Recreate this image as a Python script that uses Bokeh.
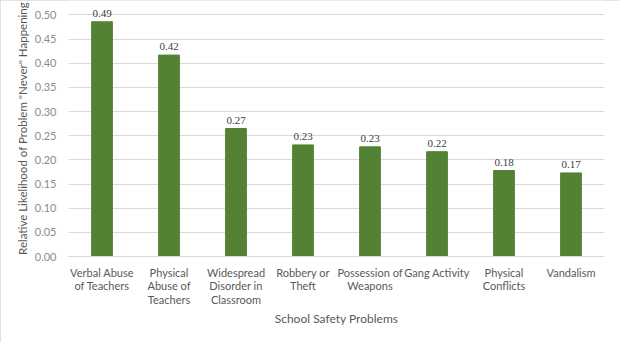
from bokeh.plotting import figure
from bokeh.models import (ColumnDataSource, LabelSet, Range1d, FixedTicker,
                          NumeralTickFormatter)
from bokeh.embed import file_html
from bokeh.resources import INLINE

categories = [
    "Verbal Abuse\nof Teachers",
    "Physical\nAbuse of\nTeachers",
    "Widespread\nDisorder in\nClassroom",
    "Robbery or\nTheft",
    "Possession of\nWeapons",
    "Gang Activity",
    "Physical\nConflicts",
    "Vandalism",
]
values = [0.486, 0.417, 0.265, 0.231, 0.227, 0.217, 0.178, 0.173]
value_labels = ["0.49", "0.42", "0.27", "0.23", "0.23", "0.22", "0.18", "0.17"]
y_ticks = [0.0, 0.05, 0.10, 0.15, 0.20, 0.25, 0.30, 0.35, 0.40, 0.45, 0.50]

source = ColumnDataSource(dict(cat=categories, val=values, lab=value_labels))

p = figure(
    x_range=categories,
    y_range=Range1d(0, 0.53),
    width=619,
    height=342,
    output_backend="svg",
    toolbar_location=None,
    min_border_left=68,
    min_border_right=15,
    min_border_top=0,
    min_border_bottom=86,
)
p.styles = {"outline": "1px solid #d9d9d9", "outline-offset": "-1px"}
p.vbar(x="cat", top="val", width=0.31, source=source, color="#548235")

labels = LabelSet(x="cat", y="val", text="lab", source=source,
                  text_align="center", text_baseline="bottom", y_offset=5,
                  text_font="Lato", text_font_size="11px", text_color="#404040")
p.add_layout(labels)

p.outline_line_color = None
p.background_fill_color = "white"
p.border_fill_color = "white"

p.xgrid.grid_line_color = None
p.ygrid.grid_line_color = "#d9d9d9"
p.ygrid.grid_line_width = 1

p.yaxis.ticker = FixedTicker(ticks=y_ticks)
p.yaxis.formatter = NumeralTickFormatter(format="0.00")
p.yaxis.axis_line_color = None
p.yaxis.major_tick_line_color = None
p.yaxis.minor_tick_line_color = None
p.yaxis.major_label_text_font = "Lato"
p.yaxis.major_label_text_font_size = "11px"
p.yaxis.major_label_text_color = "#8c8c8c"
p.yaxis.major_label_standoff = 6
p.yaxis.axis_label = 'Relative Likelihood of Problem "Never" Happening'
p.yaxis.axis_label_text_font = "Lato"
p.yaxis.axis_label_text_font_size = "11.5px"
p.yaxis.axis_label_text_font_style = "normal"
p.yaxis.axis_label_text_color = "#595959"
p.yaxis.axis_label_standoff = 3

p.xaxis.axis_line_color = "#d9d9d9"
p.xaxis.major_tick_line_color = None
p.xaxis.minor_tick_line_color = None
p.xaxis.major_label_text_font = "Lato"
p.xaxis.major_label_text_font_size = "11px"
p.xaxis.major_label_text_line_height = 1.05
p.xaxis.major_label_text_color = "#595959"
p.xaxis.major_label_standoff = 3
p.xaxis.axis_label = "School Safety Problems"
p.xaxis.axis_label_text_font = "Lato"
p.xaxis.axis_label_text_font_size = "12px"
p.xaxis.axis_label_text_font_style = "normal"
p.xaxis.axis_label_text_color = "#595959"
p.xaxis.axis_label_standoff = 2

open("out.html", "w").write(file_html(p, INLINE))
